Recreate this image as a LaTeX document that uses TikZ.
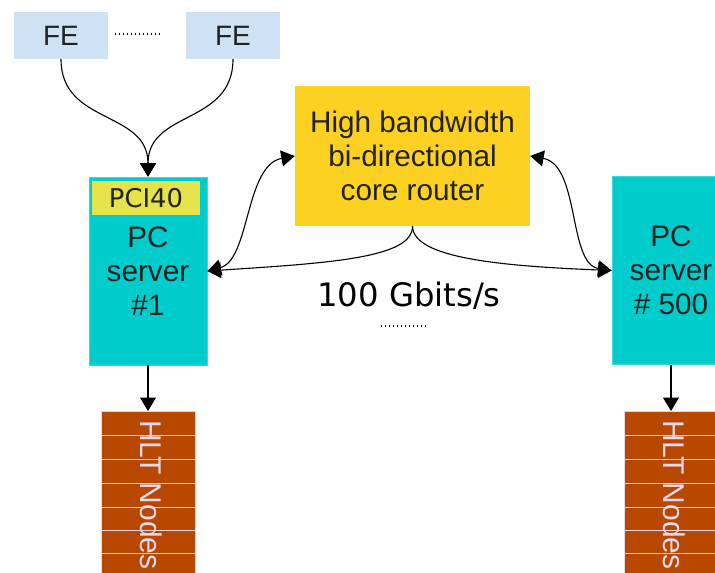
\documentclass[tikz,border=0pt]{standalone}
\usepackage{fontspec}
\setmainfont{Liberation Sans}
\newfontfamily\verd{DejaVu Sans}
\usetikzlibrary{arrows.meta}
\definecolor{feblue}{HTML}{CFE2F3}
\definecolor{pccyan}{HTML}{00CCCC}
\definecolor{pcedge}{HTML}{40D8D8}
\definecolor{pciyel}{HTML}{E6E34A}
\definecolor{routeryel}{HTML}{FDD121}
\definecolor{hltbrown}{HTML}{B84700}
\definecolor{txt}{HTML}{222222}
\definecolor{stripe}{HTML}{E4D8EA}
\begin{document}
\begin{tikzpicture}[x=1pt,y=-1pt,
  box/.style={rectangle, inner sep=0pt, text=txt, align=center, font=\fontsize{29.7}{34}\selectfont},
  fe/.style={box, fill=feblue, minimum width=94pt, minimum height=47pt, font=\fontsize{28}{34}\selectfont},
  pcserver/.style={box, fill=pccyan, draw=pcedge, line width=0.8pt, minimum width=118pt, minimum height=188pt},
  pcibox/.style={box, fill=pciyel, minimum width=108pt, minimum height=34pt, font=\verd\fontsize{25.8}{28}\selectfont},
  router/.style={box, fill=routeryel, minimum width=235pt, minimum height=140pt},
  hlt/.style={rectangle, fill=hltbrown, draw=stripe, line width=0.6pt, minimum width=94pt, minimum height=180pt, anchor=north},
  hlttext/.style={inner sep=0pt, rotate=-90, anchor=base west, text=stripe, font=\fontsize{30}{36}\selectfont},
  arr/.style={line width=1.1pt, -{Triangle[width=16pt,length=13.5pt]}},
  darr/.style={line width=1.1pt, {Triangle[width=16pt,length=13.5pt]}-{Triangle[width=16pt,length=13.5pt]}},
  dots/.style={line width=1.4pt, dash pattern=on 1.4pt off 2.6pt}
]
\clip (0,0) rectangle (715,573);
\fill[white] (0,0) rectangle (715,573);

% FE boxes
\node[fe] (fe1) at (61,35.5) {FE};
\node[fe] (fe2) at (233,35.5) {FE};
\coordinate (fedotA) at (115,34);
\coordinate (fedotB) at (162,34);
\draw[dots] (fedotA) -- (fedotB);

% PC servers
\node[pcserver] (pc1) at (148,271) {PC\\server\\\#1};
\node[pcibox] (pci) at (146,198) {PCI40};
\node[pcserver] (pc500) at (671,270.5) {PC\\server\\\# 500};

% router
\node[router] (router) at (412.5,156) {High bandwidth\\bi-directional\\core router};

% bandwidth label
\node[inner sep=0pt, text=black, font=\verd\fontsize{32.3}{36}\selectfont] (bw) at (409,296) {100 Gbits/s};
\coordinate (bwdotA) at (381,326);
\coordinate (bwdotB) at (427,326);
\draw[dots] (bwdotA) -- (bwdotB);

% HLT stacks
\node[hlt] (hlt1) at (148,411) {};
\node[hlt] (hlt2) at (671,411) {};
\foreach \yy in {435,459,483,507,530,553} {
  \draw[stripe, line width=0.8pt] (101,\yy) -- (195,\yy);
  \draw[stripe, line width=0.8pt] (624,\yy) -- (718,\yy);
}
\node[hlttext] (hlt1t) at (140,420) {HLT Nodes};
\node[hlttext] (hlt2t) at (663,420) {HLT Nodes};

% connectors
\draw[arr] (fe1.south) .. controls (61,125) and (148,110) .. (pc1.north);
\draw[arr] (fe2.south) .. controls (233,125) and (148,110) .. (pc1.north);
\draw[arr] (router.south) .. controls (413,258) and (330,263) .. (pc1.east);
\draw[arr] (router.south) .. controls (413,258) and (500,266) .. (pc500.west);
\draw[darr] (pc1.east) .. controls (250,260) and (245,165) .. (router.west);
\draw[darr] (router.east) .. controls (580,165) and (568,264) .. (pc500.west);
\draw[arr] (pc1.south) -- (hlt1.north);
\draw[arr] (pc500.south) -- (hlt2.north);
\end{tikzpicture}
\end{document}
